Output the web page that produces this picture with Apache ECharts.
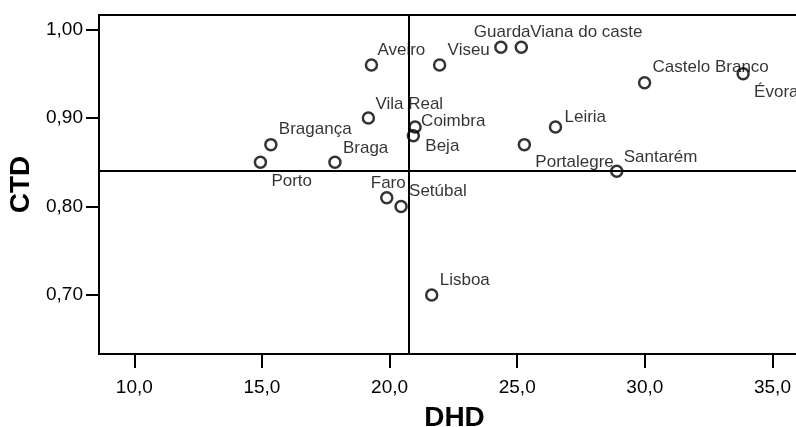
<!DOCTYPE html>
<html><head><meta charset="utf-8">
<script src="https://cdn.jsdelivr.net/npm/echarts@6/dist/echarts.min.js"></script>
<style>html,body{margin:0;padding:0;background:#fff}#c{width:796px;height:427px}</style>
</head><body><div id="c"></div>
<script>
const districts = ['Aveiro','Vila Real','Bragança','Porto','Braga','Faro','Setúbal','Viseu','Guarda','Viana do caste','Castelo Branco','Évora','Coimbra','Beja','Leiria','Portalegre','Santarém','Lisboa'];
const dhd = [19.29,19.17,15.35,14.94,17.86,19.89,20.45,21.96,24.36,25.16,29.99,33.85,21.00,20.93,26.50,25.28,28.90,21.65];
const ctd = [0.96,0.90,0.87,0.85,0.85,0.81,0.80,0.96,0.98,0.98,0.94,0.95,0.89,0.88,0.89,0.87,0.84,0.70];
const xTicks = [10,15,20,25,30,35];
const yTicks = [0.70,0.80,0.90,1.00];
const refDHD = 20.74;
const refCTD = 0.84;
const labelOffsets = [[6,-15],[7,-14],[8,-15],[11,19],[8,-14],[-16,-14],[8,-15],[8,-15],[-27,-15],[9,-15],[8,-15],[11,18],[6,-6],[12,11],[9,-10],[11,18],[7,-14],[8,-15]];

const FONT = 'Arial, "Liberation Sans", Helvetica, sans-serif';
const fmt1 = v => Number(v).toFixed(1).replace('.', ',');
const fmt2 = v => Number(v).toFixed(2).replace('.', ',');

const data = districts.map((n, i) => ({ name: n, value: [dhd[i], ctd[i]] }));

const chart = echarts.init(document.getElementById('c'), null, { renderer: 'canvas' });
chart.setOption({
  animation: false,
  backgroundColor: '#fff',
  grid: {
    show: true, borderColor: '#000', borderWidth: 2, backgroundColor: 'transparent',
    left: 99, right: -14, top: 15, bottom: 73,
    containLabel: false, outerBoundsMode: 'none'
  },
  xAxis: {
    type: 'value', min: 8.617, max: 36.47,
    name: 'DHD', nameLocation: 'middle', nameGap: 50,
    nameTextStyle: { fontSize: 28, fontWeight: 'bold', color: '#000', fontFamily: FONT },
    axisLine: { show: true, onZero: false, lineStyle: { color: '#000', width: 2 } },
    axisTick: { show: true, length: 14, lineStyle: { color: '#000', width: 2 }, customValues: xTicks },
    axisLabel: { customValues: xTicks, formatter: fmt1, fontSize: 19, color: '#000', margin: 24, fontFamily: FONT },
    splitLine: { show: false }
  },
  yAxis: {
    type: 'value', min: 0.6334, max: 1.0165,
    name: 'CTD', nameLocation: 'middle', nameGap: 57, nameRotate: 90,
    nameTextStyle: { fontSize: 28, fontWeight: 'bold', color: '#000', fontFamily: FONT },
    axisLine: { show: true, onZero: false, lineStyle: { color: '#000', width: 2 } },
    axisTick: { show: true, length: 13, lineStyle: { color: '#000', width: 2 }, customValues: yTicks },
    axisLabel: { customValues: yTicks, formatter: fmt2, fontSize: 19, color: '#000', margin: 16, fontFamily: FONT },
    splitLine: { show: false }
  },
  series: [{
    type: 'scatter',
    symbol: 'circle',
    symbolSize: 11,
    silent: true,
    itemStyle: { color: 'rgba(0,0,0,0)', borderColor: '#000', borderWidth: 2.5 },
    label: {
      show: true, position: 'inside', align: 'left', verticalAlign: 'middle',
      formatter: p => p.name, fontSize: 17, color: '#000', fontFamily: FONT,
      textBorderWidth: 0
    },
    labelLayout: p => ({ dx: labelOffsets[p.dataIndex][0], dy: labelOffsets[p.dataIndex][1], hideOverlap: false }),
    emphasis: { disabled: true },
    data: data,
    markLine: {
      silent: true, symbol: 'none', animation: false,
      label: { show: false },
      lineStyle: { color: '#000', width: 2, type: 'solid' },
      emphasis: { disabled: true },
      data: [{ xAxis: refDHD }, { yAxis: refCTD }]
    }
  }]
});
</script></body></html>
